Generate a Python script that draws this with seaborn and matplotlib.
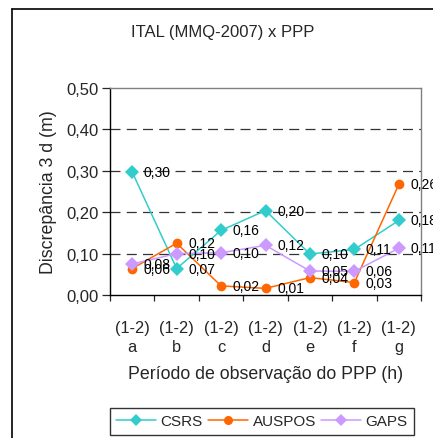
import matplotlib
matplotlib.use("Agg")
import matplotlib.pyplot as plt
import seaborn as sns
import pandas as pd
from matplotlib.lines import Line2D
from matplotlib.ticker import FixedLocator

sns.set_style("white")
plt.rcParams['font.family'] = ['Liberation Sans', 'DejaVu Sans']

categories = ["a", "b", "c", "d", "e", "f", "g"]
period = "(1-2)"
csrs = [0.297, 0.064, 0.156, 0.204, 0.099, 0.110, 0.180]
auspos = [0.064, 0.125, 0.022, 0.016, 0.042, 0.030, 0.267]
gaps = [0.075, 0.100, 0.102, 0.120, 0.058, 0.057, 0.113]
csrs_labels = ["0,30", "0,07", "0,16", "0,20", "0,10", "0,11", "0,18"]
auspos_labels = ["0,06", "0,12", "0,02", "0,01", "0,04", "0,03", "0,26"]
gaps_labels = ["0,08", "0,10", "0,10", "0,12", "0,05", "0,06", "0,11"]
series_names = ["CSRS", "AUSPOS", "GAPS"]
yticks = [0.0, 0.1, 0.2, 0.3, 0.4, 0.5]

colors = {"CSRS": "#33CCCC", "AUSPOS": "#FF6600", "GAPS": "#CC99FF"}
markers = {"CSRS": "D", "AUSPOS": "o", "GAPS": "D"}

rows = []
for name, vals in zip(series_names, [csrs, auspos, gaps]):
    for c, v in zip(categories, vals):
        rows.append({"cat": c, "val": v, "serie": name})
df = pd.DataFrame(rows)

fig = plt.figure(figsize=(4.33, 4.39), dpi=100)
ax = fig.add_axes([110/433, 1-296/439, (421-110)/433, (296-89)/439])

sns.lineplot(data=df, x="cat", y="val", hue="serie", style="serie",
             palette=colors, markers=markers, dashes=False, ax=ax,
             linewidth=1.1, markersize=7, markeredgewidth=0, legend=False,
             zorder=3)

# data labels
for vals, labs in zip([csrs, auspos, gaps], [csrs_labels, auspos_labels, gaps_labels]):
    for i, (v, l) in enumerate(zip(vals, labs)):
        ax.annotate(l, (i, v), xytext=(8.3, 0), textcoords="offset points",
                    va="center", ha="left", fontsize=10, color="black", zorder=4,
                    annotation_clip=False)

ax.set_ylim(0, 0.5)
ax.set_xlim(-0.5, 6.5)
ax.set_yticks(yticks)
ax.set_yticklabels([f"{t:.2f}".replace(".", ",") for t in yticks], fontsize=12)
for t in yticks[1:-1]:
    ax.axhline(t, color="#333333", linewidth=0.9, linestyle=(0, (8, 5)), zorder=1)

ax.set_xticks(range(len(categories)))
ax.set_xticklabels([f"{period}\n{c}" for c in categories], fontsize=11.8, linespacing=1.35)
ax.xaxis.set_minor_locator(FixedLocator([i - 0.5 for i in range(len(categories) + 1)]))
ax.tick_params(axis="x", which="major", length=0, pad=18)
ax.tick_params(axis="x", which="minor", length=4, width=0.9, direction="out", bottom=True)
ax.tick_params(axis="y", which="major", length=6, width=0.9, direction="out", left=True, pad=2)

for s in ["left", "bottom"]:
    ax.spines[s].set_color("black")
    ax.spines[s].set_linewidth(1.0)
for s in ["top", "right"]:
    ax.spines[s].set_color("#808080")
    ax.spines[s].set_linewidth(1.0)

ax.set_xlabel("Período de observação do PPP (h)", fontsize=12.8, labelpad=8)
ax.set_ylabel("Discrepância 3 d (m)", fontsize=12.8, labelpad=7)

fig.text(223/433, 1-32/439, "ITAL (MMQ-2007) x PPP", fontsize=12, ha="center", va="center")

handles = [Line2D([], [], color=colors[n], marker=markers[n], linewidth=1.1,
                  markersize=6.5, markeredgewidth=0)
           for n in series_names]
leg = fig.legend(handles, series_names, loc="center", ncol=3,
                 bbox_to_anchor=(262/433, 1-422.5/439), fontsize=11,
                 frameon=True, fancybox=False, handlelength=2.6, handletextpad=0.3,
                 columnspacing=0.35, borderpad=0.4, borderaxespad=0)
leg.get_frame().set_edgecolor("black")
leg.get_frame().set_linewidth(1.0)

# outer chart frame
fig.add_artist(Line2D([12/433, 12/433], [0, 1-10/439], color="black", linewidth=1.2,
                      transform=fig.transFigure))
fig.add_artist(Line2D([12/433, 1], [1-10/439, 1-10/439], color="black", linewidth=1.2,
                      transform=fig.transFigure))

fig.savefig("out.png", dpi=100)
